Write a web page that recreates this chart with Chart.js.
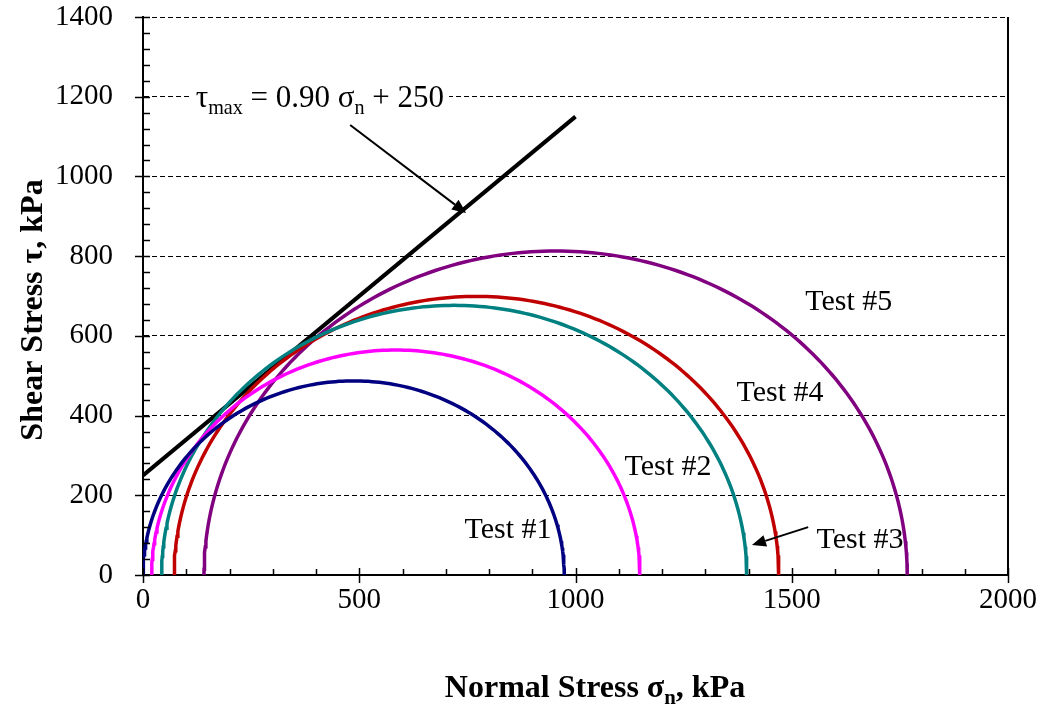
<!DOCTYPE html>
<html>
<head>
<meta charset="utf-8">
<script src="https://cdn.jsdelivr.net/npm/chart.js@4"></script>
<style>
  html, body { margin: 0; padding: 0; background: #fff; }
  #wrap { width: 1046px; height: 706px; }
</style>
</head>
<body>
<div id="wrap"><canvas id="mohrChart" width="1046" height="706"></canvas></div>
<script>
// Principal stresses of each test (kPa)
const testNames = ['Test #1', 'Test #2', 'Test #3', 'Test #4', 'Test #5'];
const sigma3 = [0, 20, 43, 72, 141];
const sigma1 = [974, 1149, 1396, 1470, 1767];

// Failure envelope  tau = 0.90 sigma_n + 250
const envelopeX = [0, 1000];
const envelopeY = [250, 1150];

// Label anchors (data units)
const labelX = [844, 1214, 1658, 1473, 1632];
const labelY = [113, 271, 88, 457, 685];

const testColors = ['#000080', '#ff00ff', '#008080', '#c00000', '#800080'];
const serif = '"Liberation Serif", "Times New Roman", serif';

// Mohr semicircle from sigma3 / sigma1
function mohr(s3, s1) {
    const c = (s3 + s1) / 2, r = (s1 - s3) / 2;
    const pts = [];
    for (let a = 180; a >= 0; a--) {
        const t = a * Math.PI / 180;
        pts.push({ x: c + r * Math.cos(t), y: r * Math.sin(t) });
    }
    return pts;
}

const datasets = testNames.map((name, i) => ({
    label: name,
    data: mohr(sigma3[i], sigma1[i]),
    borderColor: testColors[i],
    borderWidth: 3.5,
    showLine: true,
    pointRadius: 0,
    tension: 0
}));
datasets.push({
    label: 'Envelope',
    data: envelopeX.map((x, i) => ({ x: x, y: envelopeY[i] })),
    borderColor: '#000',
    borderWidth: 4,
    showLine: true,
    pointRadius: 0
});

// draw text made of pieces, some of them subscripts
function richText(ctx, parts, x, y, size, bold, align, bg) {
    const w = parts.map(p => {
        ctx.font = (bold ? 'bold ' : '') + (p.sub ? size * 0.65 : size) + 'px ' + serif;
        return ctx.measureText(p.t).width;
    });
    const total = w.reduce((a, b) => a + b, 0);
    let cx = align === 'center' ? x - total / 2 : x;
    if (bg) {
        ctx.fillStyle = '#fff';
        ctx.fillRect(cx - 5, y - size * 0.8, total + 10, size * 1.1);
    }
    ctx.fillStyle = '#000';
    ctx.textBaseline = 'alphabetic';
    ctx.textAlign = 'left';
    parts.forEach((p, i) => {
        ctx.font = (bold ? 'bold ' : '') + (p.sub ? size * 0.65 : size) + 'px ' + serif;
        ctx.fillText(p.t, cx, p.sub ? y + size * 0.22 : y);
        cx += w[i];
    });
}

function arrow(ctx, x1, y1, x2, y2) {
    const ang = Math.atan2(y2 - y1, x2 - x1), L = 14, W = 6;
    ctx.save();
    ctx.strokeStyle = '#000';
    ctx.fillStyle = '#000';
    ctx.lineWidth = 2;
    ctx.beginPath();
    ctx.moveTo(x1, y1);
    ctx.lineTo(x2 - L * Math.cos(ang), y2 - L * Math.sin(ang));
    ctx.stroke();
    ctx.beginPath();
    ctx.moveTo(x2, y2);
    ctx.lineTo(x2 - L * Math.cos(ang) + W * Math.sin(ang), y2 - L * Math.sin(ang) - W * Math.cos(ang));
    ctx.lineTo(x2 - L * Math.cos(ang) - W * Math.sin(ang), y2 - L * Math.sin(ang) + W * Math.cos(ang));
    ctx.closePath();
    ctx.fill();
    ctx.restore();
}

const decorPlugin = {
    id: 'decor',
    afterDatasetsDraw(chart) {
        const { ctx, chartArea: a, scales: { x, y } } = chart;
        ctx.save();
        ctx.strokeStyle = '#000';
        ctx.lineWidth = 2;
        // right frame
        ctx.beginPath();
        ctx.moveTo(a.right, a.top);
        ctx.lineTo(a.right, a.bottom + 1);
        ctx.stroke();
        // y ticks: majors cross the axis, minors point inward
        ctx.lineWidth = 1.5;
        for (let v = 0; v <= 1400; v += 40) {
            const py = Math.round(y.getPixelForValue(v)) + 0.5;
            ctx.beginPath();
            if (v % 200 === 0) { ctx.moveTo(a.left - 8, py); ctx.lineTo(a.left + 7, py); }
            else { ctx.moveTo(a.left, py); ctx.lineTo(a.left + 7, py); }
            ctx.stroke();
        }
        // x ticks
        for (let v = 0; v <= 2000; v += 100) {
            const px = Math.round(x.getPixelForValue(v)) + 0.5;
            ctx.beginPath();
            if (v % 500 === 0) { ctx.moveTo(px, a.bottom - 7); ctx.lineTo(px, a.bottom + 8); }
            else { ctx.moveTo(px, a.bottom - 6); ctx.lineTo(px, a.bottom); }
            ctx.stroke();
        }
        ctx.restore();

        // test labels
        ctx.save();
        ctx.fillStyle = '#000';
        ctx.font = '30px ' + serif;
        ctx.textAlign = 'center';
        ctx.textBaseline = 'middle';
        testNames.forEach((n, i) => {
            ctx.fillText(n, x.getPixelForValue(labelX[i]), y.getPixelForValue(labelY[i]));
        });
        ctx.restore();

        // equation with white box over the grid line
        richText(ctx, [
            { t: '\u03c4' }, { t: 'max', sub: true }, { t: ' = 0.90 \u03c3' }, { t: 'n', sub: true }, { t: ' + 250' }
        ], x.getPixelForValue(409), y.getPixelForValue(1200) + 10, 31, false, 'center', true);

        arrow(ctx, x.getPixelForValue(479), y.getPixelForValue(1129), x.getPixelForValue(747), y.getPixelForValue(908));
        arrow(ctx, x.getPixelForValue(1538), y.getPixelForValue(120), x.getPixelForValue(1408), y.getPixelForValue(75));

        // axis titles
        richText(ctx, [
            { t: 'Normal Stress \u03c3' }, { t: 'n', sub: true }, { t: ', kPa' }
        ], 595, 697, 32, true, 'center', false);

        ctx.save();
        ctx.translate(34, 310);
        ctx.rotate(-Math.PI / 2);
        ctx.fillStyle = '#000';
        ctx.font = 'bold 32px ' + serif;
        ctx.textAlign = 'center';
        ctx.textBaseline = 'middle';
        ctx.fillText('Shear Stress \u03c4, kPa', 0, 0);
        ctx.restore();
    }
};

new Chart(document.getElementById('mohrChart').getContext('2d'), {
    type: 'scatter',
    data: { datasets: datasets },
    options: {
        responsive: false,
        animation: false,
        layout: { padding: { top: 17, right: 38, left: 0, bottom: 0 } },
        plugins: { legend: { display: false }, tooltip: { enabled: false } },
        scales: {
            x: {
                type: 'linear', min: 0, max: 2000,
                ticks: { stepSize: 500, color: '#000', font: { family: serif, size: 29 }, padding: 8, maxRotation: 0,
                         callback: v => String(v) },
                grid: { drawOnChartArea: false, drawTicks: false },
                border: { display: true, color: '#000', width: 2 },
                afterFit: s => { s.height = 131; s.paddingLeft = 0; s.paddingRight = 0; }
            },
            y: {
                type: 'linear', min: 0, max: 1400,
                ticks: { stepSize: 200, color: '#000', font: { family: serif, size: 29 }, padding: 30,
                         callback: v => String(v) },
                grid: { color: '#000', lineWidth: 1, drawTicks: false },
                border: { display: true, color: '#000', width: 2, dash: [5, 3] },
                afterFit: s => { s.width = 143; s.paddingTop = 0; s.paddingBottom = 0; }
            }
        }
    },
    plugins: [decorPlugin]
});
</script>
</body>
</html>
